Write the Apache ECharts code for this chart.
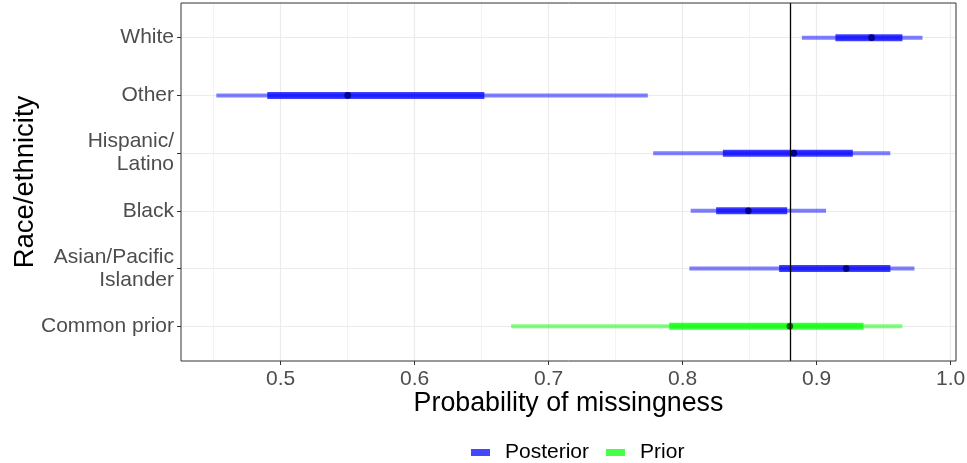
<!DOCTYPE html>
<html>
<head>
<meta charset="utf-8">
<script src="https://cdn.jsdelivr.net/npm/echarts@6/dist/echarts.min.js"></script>
<style>
  html, body { margin: 0; padding: 0; background: #ffffff; }
  #chart { width: 967px; height: 463px; }
</style>
</head>
<body>
<div id="chart"></div>
<script>
// ---- Data (bottom to top) ----
const categories = ['Common prior', 'Asian/Pacific\nIslander', 'Black', 'Hispanic/\nLatino', 'Other', 'White'];
const groups     = ['Prior', 'Posterior', 'Posterior', 'Posterior', 'Posterior', 'Posterior'];
const outerLow   = [0.672, 0.805, 0.806, 0.778, 0.452, 0.889];
const outerHigh  = [0.964, 0.973, 0.907, 0.955, 0.774, 0.979];
const innerLow   = [0.790, 0.872, 0.825, 0.830, 0.490, 0.914];
const innerHigh  = [0.935, 0.955, 0.878, 0.927, 0.652, 0.964];
const medians    = [0.880, 0.922, 0.849, 0.883, 0.550, 0.941];
const refValue   = 0.88;
const xMajorTicks = [0.5, 0.6, 0.7, 0.8, 0.9, 1.0];
const xMinorTicks = [0.45, 0.55, 0.65, 0.75, 0.85, 0.95];
const xExtent = [0.4256, 1.004];
const yExtent = [0.4, 6.6];

// ---- Styles ----
const palette = {
  Posterior: { outer: 'rgba(0,0,255,0.5)', inner: 'rgba(0,0,255,0.75)', point: '#00008b', key: '#4646ff' },
  Prior:     { outer: 'rgba(0,255,0,0.5)', inner: 'rgba(0,255,0,0.75)', point: '#007000', key: '#46ff46' }
};
const textColor = '#4d4d4d';
const fontFamily = '"Liberation Sans", Arial, sans-serif';

function rowsFor(group) {
  const out = [];
  categories.forEach((c, i) => {
    if (groups[i] === group) {
      out.push([i + 1, outerLow[i], outerHigh[i], innerLow[i], innerHigh[i], medians[i]]);
    }
  });
  return out;
}

function makeRender(group) {
  const col = palette[group];
  return function (params, api) {
    const y = api.value(0);
    const o1 = api.coord([api.value(1), y]);
    const o2 = api.coord([api.value(2), y]);
    const i1 = api.coord([api.value(3), y]);
    const i2 = api.coord([api.value(4), y]);
    const m = api.coord([api.value(5), y]);
    return {
      type: 'group',
      children: [
        { type: 'line', shape: { x1: o1[0], y1: o1[1], x2: o2[0], y2: o2[1] },
          style: { stroke: col.outer, lineWidth: 4, lineCap: 'butt' } },
        { type: 'line', shape: { x1: i1[0], y1: i1[1], x2: i2[0], y2: i2[1] },
          style: { stroke: col.inner, lineWidth: 7, lineCap: 'butt' } },
        { type: 'circle', shape: { cx: m[0], cy: m[1], r: 3.3 },
          style: { fill: col.point } }
      ]
    };
  };
}

const gridLines = [];
xMinorTicks.forEach(v => gridLines.push({ xAxis: v, lineStyle: { color: '#ebebeb', width: 0.6, type: 'solid' } }));
xMajorTicks.forEach(v => gridLines.push({ xAxis: v, lineStyle: { color: '#ebebeb', width: 1.2, type: 'solid' } }));
categories.forEach((c, i) => gridLines.push({ yAxis: i + 1, lineStyle: { color: '#ebebeb', width: 1.2, type: 'solid' } }));

const chart = echarts.init(document.getElementById('chart'), null, { renderer: 'canvas' });
chart.setOption({
  animation: false,
  backgroundColor: '#ffffff',
  grid: { left: 181, right: 11, top: 3, bottom: 102, containLabel: false, outerBoundsMode: 'none',
          show: true, borderColor: '#333333', borderWidth: 1, backgroundColor: 'transparent', z: 10 },
  xAxis: {
    type: 'value',
    min: xExtent[0], max: xExtent[1],
    name: 'Probability of missingness',
    nameLocation: 'middle',
    nameMoveOverlap: false,
    nameGap: 29,
    nameTextStyle: { fontSize: 26.8, color: '#000000', fontFamily: fontFamily },
    axisLine: { show: false },
    axisTick: { show: true, customValues: xMajorTicks, length: 4, lineStyle: { color: '#333333', width: 1 } },
    axisLabel: { customValues: xMajorTicks, fontSize: 21, color: textColor, fontFamily: fontFamily, margin: 8,
                 formatter: v => (Math.round(v * 10) / 10).toFixed(1) },
    splitLine: { show: false }
  },
  yAxis: {
    type: 'value',
    min: yExtent[0], max: yExtent[1],
    name: 'Race/ethnicity',
    nameLocation: 'middle',
    nameMoveOverlap: false,
    nameGap: 142,
    nameRotate: 90,
    nameTextStyle: { fontSize: 27.5, color: '#000000', fontFamily: fontFamily },
    axisLine: { show: false },
    axisTick: { show: true, customValues: categories.map((c, i) => i + 1), length: 4, lineStyle: { color: '#333333', width: 1 } },
    axisLabel: { customValues: categories.map((c, i) => i + 1), fontSize: 21, lineHeight: 23, color: textColor,
                 fontFamily: fontFamily, margin: 7, align: 'right',
                 formatter: v => categories[Math.round(v) - 1] },
    splitLine: { show: false }
  },
  legend: {
    left: 466,
    top: 437,
    itemWidth: 19,
    itemHeight: 7,
    itemGap: 17,
    icon: 'rect',
    textStyle: { fontSize: 21, color: '#000000', fontFamily: fontFamily, padding: [0, 0, 0, 10] },
    data: [
      { name: 'Posterior', itemStyle: { color: palette.Posterior.key } },
      { name: 'Prior', itemStyle: { color: palette.Prior.key } }
    ]
  },
  series: [
    {
      name: 'grid', type: 'line', data: [], silent: true, z: 0,
      markLine: { silent: true, symbol: 'none', label: { show: false }, animation: false, z: 0, data: gridLines }
    },
    {
      name: 'Posterior', type: 'custom', z: 3,
      itemStyle: { color: palette.Posterior.key },
      renderItem: makeRender('Posterior'),
      encode: { x: [1, 2, 3, 4, 5], y: 0 },
      data: rowsFor('Posterior')
    },
    {
      name: 'Prior', type: 'custom', z: 3,
      itemStyle: { color: palette.Prior.key },
      renderItem: makeRender('Prior'),
      encode: { x: [1, 2, 3, 4, 5], y: 0 },
      data: rowsFor('Prior')
    },
    {
      name: 'ref', type: 'line', data: [], silent: true, z: 6,
      markLine: { silent: true, symbol: 'none', label: { show: false }, animation: false, z: 6,
                  data: [{ xAxis: refValue, lineStyle: { color: '#000000', width: 1.3, type: 'solid' } }] }
    }
  ]
});
</script>
</body>
</html>
